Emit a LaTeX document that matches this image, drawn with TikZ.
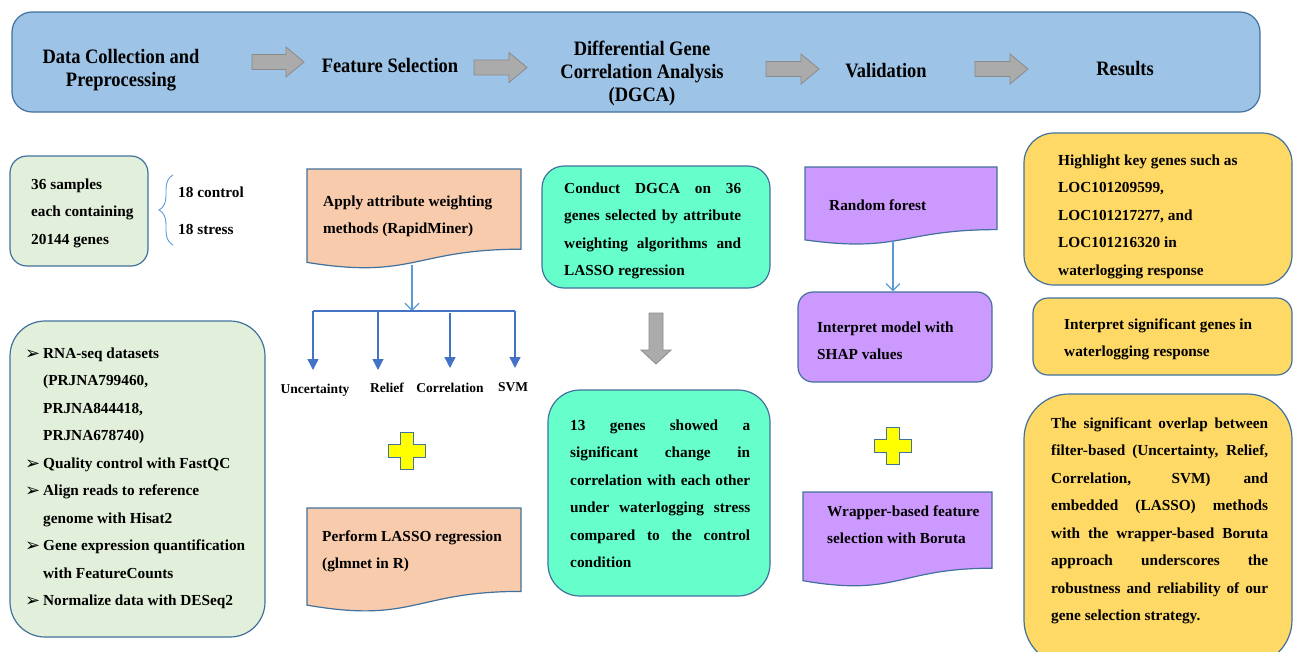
\documentclass[tikz,border=0pt]{standalone}
\usepackage{fontspec}
\setmainfont{Liberation Serif}
\newfontfamily\symfont{DejaVu Sans}
\newfontfamily\bannerfont[FakeStretch=0.9]{Liberation Serif}
\usetikzlibrary{arrows.meta,decorations.pathreplacing}

\definecolor{bord}{HTML}{41719C}
\definecolor{bannerfill}{HTML}{9DC3E6}
\definecolor{greenfill}{HTML}{E2EFDA}
\definecolor{orangefill}{HTML}{F8CBAD}
\definecolor{tealfill}{HTML}{66FFCC}
\definecolor{purplefill}{HTML}{CC99FF}
\definecolor{yellowfill}{HTML}{FFD966}
\definecolor{plusfill}{HTML}{FFFF00}
\definecolor{grayfill}{HTML}{ABABAB}
\definecolor{grayline}{HTML}{8A8A8A}
\definecolor{thinblue}{HTML}{5B9BD5}
\definecolor{treeblue}{HTML}{4472C4}

\newcommand{\bodyfont}{\fontsize{15.3}{27.5}\selectfont\bfseries}
\newcommand{\tb}[2]{\parbox[t]{#1}{\bodyfont #2}}
\newcommand{\jline}[1]{\makebox[\linewidth][s]{#1}}
\newcommand{\bl}{\makebox[18pt][l]{\raisebox{-1pt}{\symfont\fontsize{18}{18}\selectfont ➢}}}
\newcommand{\ind}{\hspace*{18pt}}
\newcommand{\garrowR}[3]{%
  \draw[garrow] (#1,#3-7.5) -- (#2-18,#3-7.5) -- (#2-18,#3-15) -- (#2,#3)
    -- (#2-18,#3+15) -- (#2-18,#3+7.5) -- (#1,#3+7.5) -- cycle;}
\newcommand{\plusat}[2]{%
  \draw[plusshape] (#1-6.5,#2-18.5) -- (#1+6.5,#2-18.5) -- (#1+6.5,#2-6.5)
    -- (#1+18.5,#2-6.5) -- (#1+18.5,#2+6.5) -- (#1+6.5,#2+6.5)
    -- (#1+6.5,#2+18.5) -- (#1-6.5,#2+18.5) -- (#1-6.5,#2+6.5)
    -- (#1-18.5,#2+6.5) -- (#1-18.5,#2-6.5) -- (#1-6.5,#2-6.5) -- cycle;}

\tikzset{
  box/.style={draw=bord, line width=1.2pt, inner sep=0pt},
  txt/.style={anchor=base west, inner sep=0pt},
  bannertxt/.style={inner sep=0pt, align=center,
    font=\bannerfont\fontsize{20.5}{23}\selectfont\bfseries},
  leaf/.style={anchor=base, inner sep=0pt,
    font=\fontsize{13.5}{16}\selectfont\bfseries},
  garrow/.style={fill=grayfill, draw=grayline, line width=0.8pt},
  plusshape/.style={fill=plusfill, draw=bord, line width=1.2pt},
  docshape/.style={draw=bord, line width=1.2pt},
  thinarrow/.style={draw=thinblue, line width=1.2pt,
    -{Straight Barb[length=7pt,width=14pt,line width=1.2pt]}},
  treearrow/.style={draw=treeblue, line width=1.4pt,
    -{Triangle[length=11pt,width=11pt]}},
  treeline/.style={draw=treeblue, line width=1.4pt},
}

\begin{document}
\begin{tikzpicture}[x=1pt,y=-1pt]
\useasboundingbox (0,0) rectangle (1293,651);

% ---------- banner ----------
\node[box, fill=bannerfill, minimum width=1248pt, minimum height=100pt,
      rounded corners=20pt] (banner) at (636,62) {};
\node[bannertxt] (hdata) at (121,70) {Data Collection and\\Preprocessing};
\node[bannertxt] (hfeat) at (390,66) {Feature Selection};
\node[bannertxt] (hdgca) at (642,73) {Differential Gene\\Correlation Analysis\\(DGCA)};
\node[bannertxt] (hval) at (886,71) {Validation};
\node[bannertxt] (hres) at (1125,69) {Results};
\garrowR{252}{304}{62}
\garrowR{474}{527}{67.5}
\garrowR{766}{819}{69}
\garrowR{975}{1028}{69}

% ---------- column 1 ----------
\node[box, fill=greenfill, minimum width=138pt, minimum height=110pt,
      rounded corners=17pt] (samples) at (79,211) {};
\node[txt] (samplestxt) at (31,189) {\tb{115pt}{36 samples\\each containing\\20144 genes}};
\coordinate (brtop) at (173,175);
\coordinate (brbot) at (173,245);
\draw[thinblue, line width=0.9pt, decorate,
      decoration={brace, amplitude=14pt, aspect=0.5}] (brbot) -- (brtop);
\node[txt] (ctrl) at (178,197) {\tb{80pt}{18 control}};
\node[txt] (strs) at (178,234) {\tb{80pt}{18 stress}};

\node[box, fill=greenfill, minimum width=255pt, minimum height=316pt,
      rounded corners=35pt] (prep) at (137.5,479) {};
\node[txt] (preptxt) at (25,358) {\tb{240pt}{%
\bl RNA-seq datasets\\
\ind (PRJNA799460,\\
\ind PRJNA844418,\\
\ind PRJNA678740)\\
\bl Quality control with FastQC\\
\bl Align reads to reference\\
\ind genome with Hisat2\\
\bl Gene expression quantification\\
\ind with FeatureCounts\\
\bl Normalize data with DESeq2}};

% ---------- column 2 ----------
\draw[docshape, fill=orangefill] (307,169) -- (521,169) -- (521,249.2)
  .. controls (414,249.2) and (414,279.7) .. (307,262.4) -- cycle;
\node[txt] (weighttxt) at (323,206) {\tb{190pt}{Apply attribute weighting\\methods (RapidMiner)}};
\coordinate (wbot) at (412,265);
\coordinate (wjoin) at (412,311);
\draw[thinarrow] (wbot) -- (wjoin);
\coordinate (b1) at (313,311);
\coordinate (b2) at (378,311);
\coordinate (b3) at (450,313);
\coordinate (b4) at (515,311);
\draw[treeline] (b1) -- (b4);
\coordinate (e1) at (313,370);
\coordinate (e2) at (378,370);
\coordinate (e3) at (450,368);
\coordinate (e4) at (515,368);
\draw[treearrow] (b1) -- (e1);
\draw[treearrow] (b2) -- (e2);
\draw[treearrow] (b3) -- (e3);
\draw[treearrow] (b4) -- (e4);
\node[leaf] (unc) at (315,393) {Uncertainty};
\node[leaf] (rel) at (387,392) {Relief};
\node[leaf] (cor) at (450,392) {Correlation};
\node[leaf] (svm) at (513,391) {SVM};

\plusat{407}{451}

\draw[docshape, fill=orangefill] (307,508) -- (521,508) -- (521,591.4)
  .. controls (414,591.4) and (414,623.7) .. (307,605.1) -- cycle;
\node[txt] (lassotxt) at (322,541) {\tb{190pt}{Perform LASSO regression\\(glmnet in R)}};

% ---------- column 3 ----------
\node[box, fill=tealfill, minimum width=228pt, minimum height=122pt,
      rounded corners=22pt] (dgca) at (656,227) {};
\node[txt] (dgcatxt) at (564,193) {\tb{177pt}{%
\jline{Conduct DGCA on 36}\\
\jline{genes selected by attribute}\\
\jline{weighting algorithms and}\\
LASSO regression}};
\draw[garrow] (649,313) -- (663,313) -- (663,350) -- (671,350) -- (656,364)
  -- (641,350) -- (649,350) -- cycle;
\node[box, fill=tealfill, minimum width=222pt, minimum height=206pt,
      rounded corners=32pt] (genes13) at (659,493) {};
\node[txt] (genes13txt) at (570,430) {\tb{180pt}{%
\jline{13 genes showed a}\\
\jline{significant change in}\\
\jline{correlation with each other}\\
\jline{under waterlogging stress}\\
\jline{compared to the control}\\
condition}};

% ---------- column 4 ----------
\draw[docshape, fill=purplefill] (805,167) -- (997,167) -- (997,229.6)
  .. controls (901,229.6) and (901,253.3) .. (805,239.9) -- cycle;
\node[txt] (rftxt) at (829,210) {\tb{150pt}{Random forest}};
\node[box, fill=purplefill, minimum width=194pt, minimum height=90pt,
      rounded corners=15pt] (shap) at (895,337) {};
\node[txt] (shaptxt) at (817,332) {\tb{170pt}{Interpret model with\\SHAP values}};
\coordinate (rfbot) at (893,241);
\draw[thinarrow] (rfbot) -- (shap.north -| rfbot);
\plusat{893}{446}
\draw[docshape, fill=purplefill] (803,492) -- (992,492) -- (992,568.2)
  .. controls (897.5,568.2) and (897.5,597.2) .. (803,580.7) -- cycle;
\node[txt] (borutatxt) at (827,516) {\tb{165pt}{Wrapper-based feature\\selection with Boruta}};

% ---------- column 5 ----------
\node[box, fill=yellowfill, minimum width=268pt, minimum height=152pt,
      rounded corners=30pt] (keygenes) at (1158,209) {};
\node[txt] (keytxt) at (1058,165) {\tb{210pt}{Highlight key genes such as\\LOC101209599,\\LOC101217277, and\\LOC101216320 in\\waterlogging response}};
\node[box, fill=yellowfill, minimum width=259pt, minimum height=77pt,
      rounded corners=15pt] (interp) at (1162.5,336.5) {};
\node[txt] (interptxt) at (1064,329) {\tb{210pt}{Interpret significant genes in\\waterlogging response}};
\node[box, fill=yellowfill, minimum width=268pt, minimum height=271pt,
      rounded corners=45pt] (overlap) at (1158,529.5) {};
\node[txt] (overlaptxt) at (1051,428) {\tb{217pt}{%
\jline{The significant overlap between}\\
\jline{filter-based (Uncertainty, Relief,}\\
\jline{Correlation, SVM) and}\\
\jline{embedded (LASSO) methods}\\
\jline{with the wrapper-based Boruta}\\
\jline{approach underscores the}\\
\jline{robustness and reliability of our}\\
gene selection strategy.}};
\end{tikzpicture}
\end{document}
